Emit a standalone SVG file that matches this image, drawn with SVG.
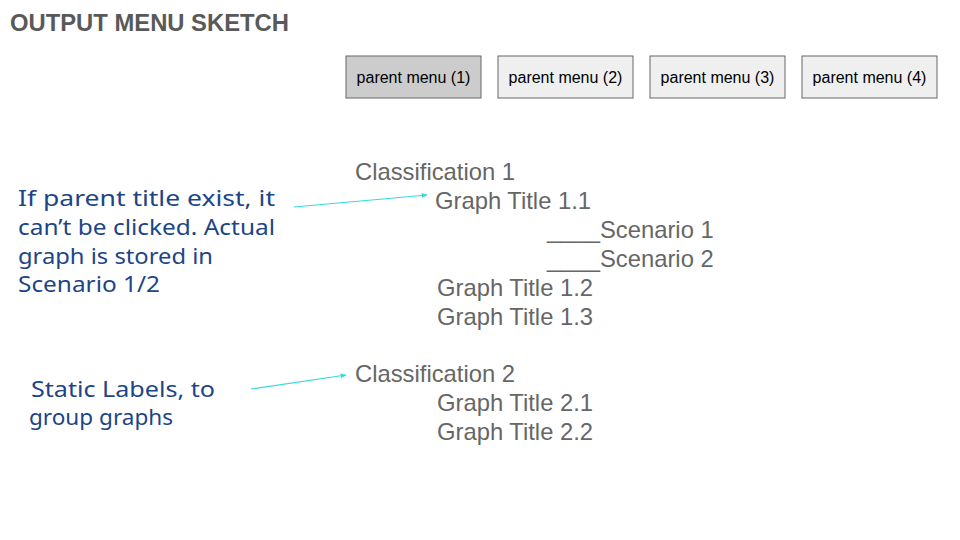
<svg xmlns="http://www.w3.org/2000/svg" width="960" height="540" viewBox="0 0 960 540">
<style>
.title{font-family:"Liberation Sans",Arial,sans-serif;font-weight:bold;font-size:23.8px;fill:#595959}
.btn{stroke:#666666;stroke-width:1}
.btxt{font-family:"Liberation Sans",Arial,sans-serif;font-size:16px;fill:#000000;text-anchor:middle}
.menu{font-family:"Liberation Sans",Arial,sans-serif;font-size:23.8px;fill:#666666}
.note{font-family:"Comic Sans MS","Noto Sans",sans-serif;font-size:22px;fill:#1c4587}
.conn{stroke:#33dada;stroke-width:1.2;fill:none;marker-end:url(#ah)}
</style>
<defs>
<marker id="ah" viewBox="0 0 10 10" refX="9" refY="5" markerWidth="6" markerHeight="6" orient="auto" markerUnits="userSpaceOnUse">
<path d="M0,1 L10,5 L0,9 Z" fill="#33dada"/>
</marker>
</defs>
<rect width="960" height="540" fill="#ffffff"/>
<text class="title" x="10" y="31">OUTPUT MENU SKETCH</text>
<g id="menu1"><rect class="btn" x="346" y="56" width="135" height="42" fill="#cccccc"/><text class="btxt" x="413.5" y="83">parent menu (1)</text></g>
<g id="menu2"><rect class="btn" x="498" y="56" width="135" height="42" fill="#efefef"/><text class="btxt" x="565.5" y="83">parent menu (2)</text></g>
<g id="menu3"><rect class="btn" x="650" y="56" width="135" height="42" fill="#efefef"/><text class="btxt" x="717.5" y="83">parent menu (3)</text></g>
<g id="menu4"><rect class="btn" x="802" y="56" width="135" height="42" fill="#efefef"/><text class="btxt" x="869.5" y="83">parent menu (4)</text></g>
<g id="tree">
<text class="menu" x="355" y="180">Classification 1</text>
<text class="menu" x="435" y="209">Graph Title 1.1</text>
<text class="menu" x="547" y="238">____Scenario 1</text>
<text class="menu" x="547" y="267">____Scenario 2</text>
<text class="menu" x="437" y="296">Graph Title 1.2</text>
<text class="menu" x="437" y="325">Graph Title 1.3</text>
<text class="menu" x="355" y="382">Classification 2</text>
<text class="menu" x="437" y="411">Graph Title 2.1</text>
<text class="menu" x="437" y="440">Graph Title 2.2</text>
</g>
<g id="note1">
<text class="note" x="18" y="206" textLength="257" lengthAdjust="spacingAndGlyphs">If parent title exist, it</text>
<text class="note" x="18" y="235" textLength="257" lengthAdjust="spacingAndGlyphs">can’t be clicked. Actual</text>
<text class="note" x="18" y="264" textLength="195" lengthAdjust="spacingAndGlyphs">graph is stored in</text>
<text class="note" x="18" y="292" textLength="142" lengthAdjust="spacingAndGlyphs">Scenario 1/2</text>
</g>
<g id="note2">
<text class="note" x="31" y="397" textLength="184" lengthAdjust="spacingAndGlyphs">Static Labels, to</text>
<text class="note" x="29" y="425" textLength="144" lengthAdjust="spacingAndGlyphs">group graphs</text>
</g>
<g id="connectors">
<line class="conn" x1="294" y1="207" x2="427" y2="195"/>
<line class="conn" x1="251" y1="389" x2="346" y2="375"/>
</g>
</svg>
